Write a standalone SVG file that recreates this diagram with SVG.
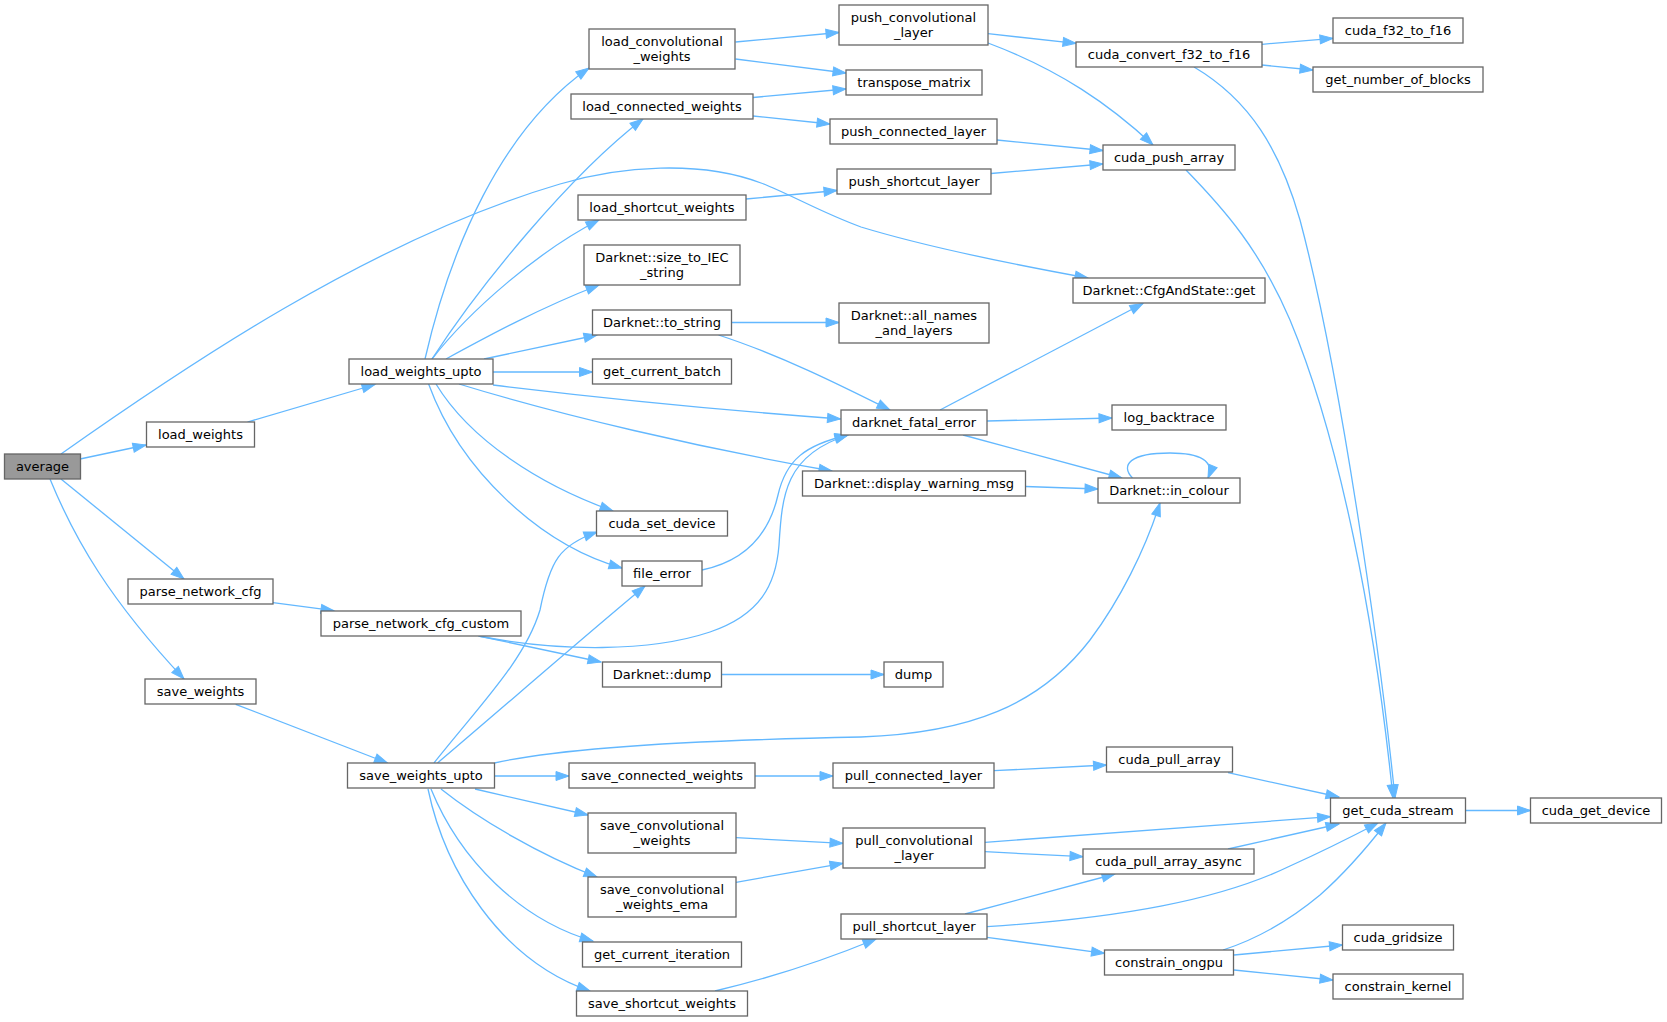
<svg xmlns="http://www.w3.org/2000/svg" width="1667" height="1022" viewBox="0 0 1667 1022">
<style>
.n rect{fill:#fff;stroke:#666;stroke-width:1.3}
.r rect{fill:#999;stroke:#666;stroke-width:1.3}
text{font-family:"DejaVu Sans","Liberation Sans",sans-serif;font-size:13px;fill:#000;text-anchor:middle}
.e path{fill:none;stroke:#63b8ff;stroke-width:1.3;marker-end:url(#a)}
</style>
<defs>
<marker id="a" markerUnits="userSpaceOnUse" markerWidth="15" markerHeight="11" refX="13" refY="4.5" orient="auto" overflow="visible">
<path d="M0,0 L13,4.5 L0,9 z" fill="#63b8ff" stroke="#63b8ff" stroke-width="1"/>
</marker>
</defs>
<rect width="1667" height="1022" fill="#fff"/>
<g class="e" id="edges">
<path d="M80,459 L146,445"/>
<path d="M61,454 C180,370 370,240 560,184 C620,166 700,160 761,183 C790,194 820,212 861,227 C920,245 1000,262 1088,278"/>
<path d="M61,479 L184,579"/>
<path d="M50,479 C75,540 110,600 184,679"/>
<path d="M247.5,422 L375,384.5"/>
<path d="M425,359 C450,250 500,130 589,68"/>
<path d="M432,359 C480,285 570,175 643,119"/>
<path d="M432,359 C470,310 540,250 599,220"/>
<path d="M446,359 C490,335 540,308 599,285"/>
<path d="M484,359 L597,335"/>
<path d="M493,372 L592.5,372"/>
<path d="M493,385 C600,398 720,410 840.5,419"/>
<path d="M459,384 C560,415 700,448 832,471"/>
<path d="M436,384 C470,440 540,485 613,511"/>
<path d="M428.6,384 C460,470 540,545 622,568"/>
<path d="M735.5,42 L839,32.5"/>
<path d="M735.5,59 L846,73"/>
<path d="M753,97.5 L846,89"/>
<path d="M753,116 L830,124"/>
<path d="M746,199 L837,190.5"/>
<path d="M731.5,322.5 L839,322.5"/>
<path d="M718.5,335 C780,355 840,385 890,410"/>
<path d="M988,33.7 L1076,43.3"/>
<path d="M988,43 C1060,70 1110,105 1153,145"/>
<path d="M997,140 L1103,150.5"/>
<path d="M991,173.5 L1103,164"/>
<path d="M1262,44.3 L1333,38.3"/>
<path d="M1262,65 L1313,70"/>
<path d="M1194,67 C1250,100 1280,150 1300,220 C1340,370 1380,650 1395,798"/>
<path d="M1186,170 C1225,210 1260,250 1290,320 C1340,440 1375,620 1393,798"/>
<path d="M940,410 L1143,303.5"/>
<path d="M987,421 L1112,418"/>
<path d="M963,435 L1122,478"/>
<path d="M1025.5,486.5 L1098,489"/>
<path d="M1132.5,478 C1120,465 1130,453 1170,453 C1200,453 1215,461 1208,478"/>
<path d="M235.7,704.3 L387.5,763"/>
<path d="M273,602.7 L334,610.7"/>
<path d="M478.6,636 C560,652 650,652 710,632 C760,615 776,585 779,545 C782,495 785,455 848,435"/>
<path d="M478.6,636 L601,662"/>
<path d="M721.5,674.5 L884,674.5"/>
<path d="M702,570 C750,560 770,530 778,495 C786,460 805,445 848,435"/>
<path d="M434,763 C480,705 525,660 540,610 C550,560 560,545 597,532"/>
<path d="M437.5,763 C500,710 580,640 645,586"/>
<path d="M494.6,763 C560,748 700,740 861,737 C970,733 1040,705 1090,640 C1120,600 1145,550 1160,503"/>
<path d="M494.6,776 L569,776"/>
<path d="M475,789 L588,815"/>
<path d="M441,789 C480,820 540,855 597,877"/>
<path d="M431,789 C460,860 520,920 593,941"/>
<path d="M428,789 C445,870 500,960 590,991"/>
<path d="M755,776 L833,776"/>
<path d="M994,770.7 L1106.5,765"/>
<path d="M736,837.7 L843,843.3"/>
<path d="M736,882.3 L843,863.3"/>
<path d="M985,842.3 L1330.5,816.7"/>
<path d="M985,851.7 L1083,856.7"/>
<path d="M965,914 L1115,874"/>
<path d="M987,926.7 C1120,918 1220,900 1290,866 C1330,848 1355,835 1378,823"/>
<path d="M987,937.3 L1104.5,953.3"/>
<path d="M715,991 C770,978 830,958 876,939"/>
<path d="M1228,772.7 L1339,797"/>
<path d="M1228,849 L1339,824"/>
<path d="M1223,950 C1260,938 1290,920 1320,895 C1345,873 1365,850 1386,823"/>
<path d="M1234,955 L1342.5,945"/>
<path d="M1234,970 L1333,980"/>
<path d="M1465,810.5 L1530.5,810.5"/>
</g>
<g class="r" id="average"><rect x="4.5" y="454" width="76" height="25"/><text x="42.5" y="471">average</text></g>
<g class="n" id="load_weights"><rect x="146.5" y="422" width="108" height="25"/><text x="200.5" y="439">load_weights</text></g>
<g class="n" id="load_weights_upto"><rect x="349" y="359" width="144" height="25"/><text x="421" y="376">load_weights_upto</text></g>
<g class="n" id="parse_network_cfg"><rect x="128" y="579" width="145" height="25"/><text x="200.5" y="596">parse_network_cfg</text></g>
<g class="n" id="parse_network_cfg_custom"><rect x="321" y="611" width="200" height="25"/><text x="421" y="628">parse_network_cfg_custom</text></g>
<g class="n" id="save_weights"><rect x="145" y="679" width="111" height="25"/><text x="200.5" y="696">save_weights</text></g>
<g class="n" id="save_weights_upto"><rect x="347.5" y="763" width="147" height="25"/><text x="421" y="780">save_weights_upto</text></g>
<g class="n" id="load_convolutional_weights"><rect x="589" y="29" width="146" height="40"/><text x="662" y="46">load_convolutional</text><text x="662" y="61">_weights</text></g>
<g class="n" id="load_connected_weights"><rect x="571" y="94" width="182" height="25"/><text x="662" y="111">load_connected_weights</text></g>
<g class="n" id="load_shortcut_weights"><rect x="578" y="195" width="168" height="25"/><text x="662" y="212">load_shortcut_weights</text></g>
<g class="n" id="size_to_IEC_string"><rect x="584" y="245" width="156" height="40"/><text x="662" y="262">Darknet::size_to_IEC</text><text x="662" y="277">_string</text></g>
<g class="n" id="to_string"><rect x="592.5" y="310" width="139" height="25"/><text x="662" y="327">Darknet::to_string</text></g>
<g class="n" id="get_current_batch"><rect x="592.5" y="359" width="139" height="25"/><text x="662" y="376">get_current_batch</text></g>
<g class="n" id="cuda_set_device"><rect x="596.5" y="511" width="131" height="25"/><text x="662" y="528">cuda_set_device</text></g>
<g class="n" id="file_error"><rect x="622" y="561" width="80" height="25"/><text x="662" y="578">file_error</text></g>
<g class="n" id="darknet_dump"><rect x="602.5" y="662" width="119" height="25"/><text x="662" y="679">Darknet::dump</text></g>
<g class="n" id="save_connected_weights"><rect x="569" y="763" width="186" height="25"/><text x="662" y="780">save_connected_weights</text></g>
<g class="n" id="save_convolutional_weights"><rect x="588" y="813" width="148" height="40"/><text x="662" y="830">save_convolutional</text><text x="662" y="845">_weights</text></g>
<g class="n" id="save_convolutional_weights_ema"><rect x="588" y="877" width="148" height="40"/><text x="662" y="894">save_convolutional</text><text x="662" y="909">_weights_ema</text></g>
<g class="n" id="get_current_iteration"><rect x="582.5" y="942" width="159" height="25"/><text x="662" y="959">get_current_iteration</text></g>
<g class="n" id="save_shortcut_weights"><rect x="576.5" y="991" width="171" height="25"/><text x="662" y="1008">save_shortcut_weights</text></g>
<g class="n" id="push_convolutional_layer"><rect x="839" y="5" width="149" height="40"/><text x="913.5" y="22">push_convolutional</text><text x="913.5" y="37">_layer</text></g>
<g class="n" id="transpose_matrix"><rect x="846" y="70" width="136" height="25"/><text x="914" y="87">transpose_matrix</text></g>
<g class="n" id="push_connected_layer"><rect x="830" y="119" width="167" height="25"/><text x="913.5" y="136">push_connected_layer</text></g>
<g class="n" id="push_shortcut_layer"><rect x="837" y="169" width="154" height="25"/><text x="914" y="186">push_shortcut_layer</text></g>
<g class="n" id="all_names_and_layers"><rect x="839" y="303" width="150" height="40"/><text x="914" y="320">Darknet::all_names</text><text x="914" y="335">_and_layers</text></g>
<g class="n" id="darknet_fatal_error"><rect x="841" y="410" width="146" height="25"/><text x="914" y="427">darknet_fatal_error</text></g>
<g class="n" id="display_warning_msg"><rect x="802.5" y="471" width="223" height="25"/><text x="914" y="488">Darknet::display_warning_msg</text></g>
<g class="n" id="dump"><rect x="884" y="662" width="59" height="25"/><text x="913.5" y="679">dump</text></g>
<g class="n" id="pull_connected_layer"><rect x="833" y="763" width="161" height="25"/><text x="913.5" y="780">pull_connected_layer</text></g>
<g class="n" id="pull_convolutional_layer"><rect x="843" y="828" width="142" height="40"/><text x="914" y="845">pull_convolutional</text><text x="914" y="860">_layer</text></g>
<g class="n" id="pull_shortcut_layer"><rect x="841" y="914" width="146" height="25"/><text x="914" y="931">pull_shortcut_layer</text></g>
<g class="n" id="cuda_convert_f32_to_f16"><rect x="1076" y="42" width="186" height="25"/><text x="1169" y="59">cuda_convert_f32_to_f16</text></g>
<g class="n" id="cuda_push_array"><rect x="1103" y="145" width="132" height="25"/><text x="1169" y="162">cuda_push_array</text></g>
<g class="n" id="cfg_get"><rect x="1073" y="278" width="192" height="25"/><text x="1169" y="295">Darknet::CfgAndState::get</text></g>
<g class="n" id="log_backtrace"><rect x="1112" y="405" width="114" height="25"/><text x="1169" y="422">log_backtrace</text></g>
<g class="n" id="in_colour"><rect x="1098" y="478" width="142" height="25"/><text x="1169" y="495">Darknet::in_colour</text></g>
<g class="n" id="cuda_pull_array"><rect x="1106.5" y="747" width="126" height="25"/><text x="1169.5" y="764">cuda_pull_array</text></g>
<g class="n" id="cuda_pull_array_async"><rect x="1083" y="849" width="171" height="25"/><text x="1168.5" y="866">cuda_pull_array_async</text></g>
<g class="n" id="constrain_ongpu"><rect x="1104.5" y="950" width="129" height="25"/><text x="1169" y="967">constrain_ongpu</text></g>
<g class="n" id="cuda_f32_to_f16"><rect x="1333" y="18" width="130" height="25"/><text x="1398" y="35">cuda_f32_to_f16</text></g>
<g class="n" id="get_number_of_blocks"><rect x="1313" y="67" width="170" height="25"/><text x="1398" y="84">get_number_of_blocks</text></g>
<g class="n" id="get_cuda_stream"><rect x="1330.5" y="798" width="135" height="25"/><text x="1398" y="815">get_cuda_stream</text></g>
<g class="n" id="cuda_gridsize"><rect x="1342.5" y="925" width="111" height="25"/><text x="1398" y="942">cuda_gridsize</text></g>
<g class="n" id="constrain_kernel"><rect x="1333" y="974" width="130" height="25"/><text x="1398" y="991">constrain_kernel</text></g>
<g class="n" id="cuda_get_device"><rect x="1530.5" y="798" width="131" height="25"/><text x="1596" y="815">cuda_get_device</text></g>
</svg>
